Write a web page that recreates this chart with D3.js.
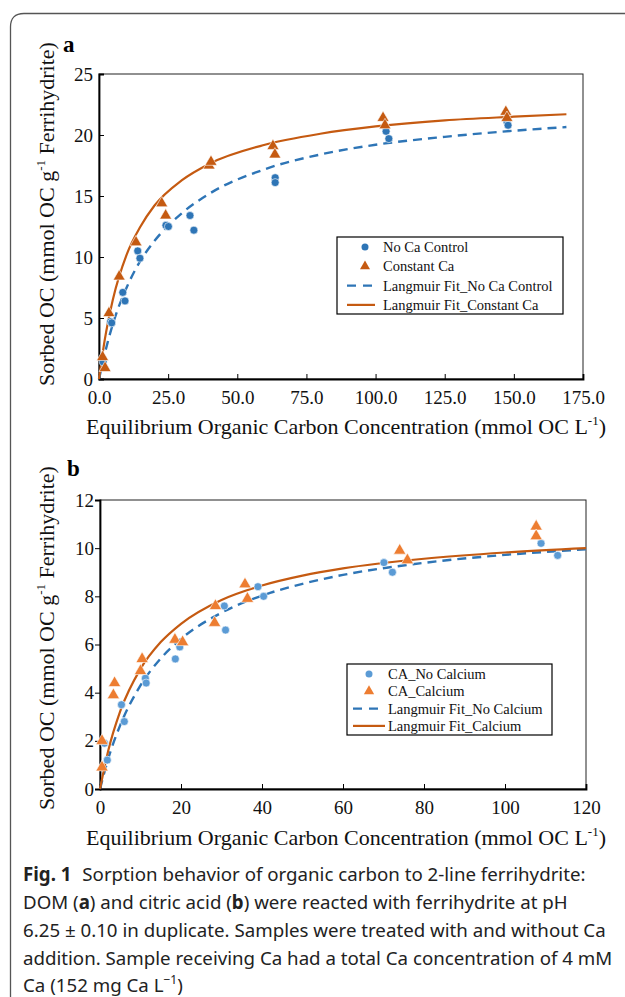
<!DOCTYPE html>
<html><head><meta charset="utf-8">
<script src="https://cdn.jsdelivr.net/npm/d3@7"></script>
<style>
html,body{margin:0;padding:0;background:#fff;}
svg{display:block;}
.serif{font-family:"Liberation Serif","Times New Roman",serif;}
</style></head>
<body>
<svg id="c" width="625" height="997"></svg>
<script>
// ---------- Panel a data (DOM) ----------
const aNoCaX = [1.5, 4.2, 4.6, 8.6, 9.4, 14.0, 14.8, 24.2, 25.1, 32.9, 34.3, 63.7, 63.7, 103.8, 104.8, 147.5, 147.9];
const aNoCaY = [1.4, 4.7, 4.6, 7.1, 6.4, 10.5, 9.9, 12.6, 12.5, 13.4, 12.2, 16.5, 16.1, 20.3, 19.7, 21.1, 20.8];
const aCaX = [1.3, 2.2, 3.6, 7.3, 13.4, 22.7, 24.1, 39.8, 40.5, 62.9, 63.6, 102.7, 103.4, 147.1, 147.5];
const aCaY = [1.8, 0.9, 5.4, 8.4, 11.2, 14.4, 13.4, 17.5, 17.8, 19.1, 18.4, 21.4, 20.8, 21.9, 21.4];
// Langmuir fit curves
const aFitNoCaX = [0, 2, 5, 10, 15, 20, 30, 40, 60, 80, 100, 125, 150, 169];
const aFitNoCaY = [0, 2.0, 4.5, 7.5, 9.7, 11.3, 13.6, 15.2, 17.2, 18.4, 19.2, 19.85, 20.35, 20.65];
const aFitCaX = [0, 2, 5, 10, 15, 20, 30, 40, 60, 80, 100, 125, 150, 169];
const aFitCaY = [0, 3.1, 6.5, 10.2, 12.5, 14.2, 16.3, 17.65, 19.2, 20.1, 20.7, 21.2, 21.5, 21.7];
const aXTicks = [0, 25, 50, 75, 100, 125, 150, 175];
const aYTicks = [0, 5, 10, 15, 20, 25];

// ---------- Panel b data (citric acid) ----------
const bNoCaX = [1.1, 1.8, 5.3, 6.0, 11.2, 11.4, 18.6, 19.7, 30.7, 31.0, 39.0, 40.4, 70.1, 72.2, 108.9, 113.0];
const bNoCaY = [1.9, 1.2, 3.5, 2.8, 4.6, 4.4, 5.4, 5.9, 7.6, 6.6, 8.4, 8.0, 9.4, 9.0, 10.2, 9.7];
const bCaX = [0.5, 0.5, 3.3, 3.6, 10.0, 10.4, 18.5, 20.4, 28.3, 28.5, 35.8, 36.4, 74.0, 75.9, 107.7, 107.7];
const bCaY = [0.9, 2.0, 3.9, 4.4, 4.9, 5.4, 6.2, 6.1, 6.9, 7.6, 8.5, 7.9, 9.9, 9.5, 10.9, 10.5];
const bFitNoCaX = [0, 2, 5, 10, 15, 20, 30, 40, 50, 60, 80, 100, 120];
const bFitNoCaY = [0, 1.24, 2.65, 4.3, 5.42, 6.23, 7.32, 8.03, 8.52, 8.89, 9.39, 9.72, 9.95];
const bFitCaX = [0, 2, 5, 10, 15, 20, 30, 40, 50, 60, 80, 100, 120];
const bFitCaY = [0, 1.57, 3.23, 4.99, 6.1, 6.86, 7.85, 8.45, 8.86, 9.16, 9.56, 9.82, 10.0];
const bXTicks = [0, 20, 40, 60, 80, 100, 120];
const bYTicks = [0, 2, 4, 6, 8, 10, 12];

const svg = d3.select("#c");

// page frame (rounded top-left corner)
svg.append("path")
  .attr("d", "M10.5,997 L10.5,27 Q10.5,13.5 24,13.5 L625,13.5")
  .attr("fill", "none").attr("stroke", "#555").attr("stroke-width", 1.3);

function panel(cfg) {
  const g = svg.append("g").attr("class", "serif");
  const x = d3.scaleLinear().domain(cfg.xDom).range(cfg.xRange);
  const y = d3.scaleLinear().domain(cfg.yDom).range(cfg.yRange);
  const [x0, x1] = cfg.xRange, [y0, y1] = cfg.yRange;

  // frame
  g.append("rect").attr("x", x0).attr("y", y1).attr("width", x1 - x0).attr("height", y0 - y1)
    .attr("fill", "none").attr("stroke", "#222").attr("stroke-width", 1);

  // x axis (ticks inward)
  const xa = g.append("g").attr("transform", `translate(0,${y0})`)
    .call(d3.axisBottom(x).tickValues(cfg.xTicks).tickSize(-5).tickPadding(12).tickFormat(cfg.xFmt));
  xa.select(".domain").attr("stroke", "#000").attr("stroke-width", 1.8);
  xa.selectAll(".tick line").attr("stroke", "#000").attr("stroke-width", 1);
  xa.selectAll("text").attr("font-family", "Liberation Serif").attr("font-size", 19).attr("fill", "#111");

  // y axis
  const ya = g.append("g").attr("transform", `translate(${x0},0)`)
    .call(d3.axisLeft(y).tickValues(cfg.yTicks).tickSize(cfg.yTickIn ? -5 : 5).tickPadding(cfg.yTickIn ? 6 : 1).tickFormat(d3.format("d")));
  ya.select(".domain").attr("stroke", "#000").attr("stroke-width", 1.8);
  ya.selectAll(".tick line").attr("stroke", "#000").attr("stroke-width", 1);
  ya.selectAll("text").attr("font-family", "Liberation Serif").attr("font-size", 19).attr("fill", "#111");

  // fit lines
  const line = d3.line().x(d => x(d[0])).y(d => y(d[1])).curve(d3.curveMonotoneX);
  g.append("path").datum(d3.zip(cfg.fitNoCaX, cfg.fitNoCaY)).attr("d", line)
    .attr("fill", "none").attr("stroke", cfg.lineBlue).attr("stroke-width", 2.4).attr("stroke-dasharray", "9,6");
  g.append("path").datum(d3.zip(cfg.fitCaX, cfg.fitCaY)).attr("d", line)
    .attr("fill", "none").attr("stroke", cfg.lineOrange).attr("stroke-width", 2.2);

  // points
  g.selectAll(".pc").data(d3.zip(cfg.noCaX, cfg.noCaY)).join("circle")
    .attr("cx", d => x(d[0])).attr("cy", d => y(d[1])).attr("r", cfg.r)
    .attr("fill", cfg.ptBlue).attr("stroke", "#fff").attr("stroke-width", 0.6);
  const tri = d3.symbol().type(d3.symbolTriangle).size(cfg.triSize);
  g.selectAll(".pt").data(d3.zip(cfg.caX, cfg.caY)).join("path")
    .attr("d", tri).attr("transform", d => `translate(${x(d[0])},${y(d[1])})`)
    .attr("fill", cfg.ptOrange).attr("stroke", "#fff").attr("stroke-width", 0.6);

  // axis titles
  const yt = g.append("text").attr("transform", `translate(${cfg.yTitleX},${cfg.yTitleY}) rotate(-90)`)
    .attr("text-anchor", "middle").attr("font-size", 22).attr("fill", "#111");
  yt.append("tspan").text("Sorbed OC (mmol OC g");
  yt.append("tspan").text("-1").attr("font-size", 13).attr("dy", -9);
  yt.append("tspan").text(" Ferrihydrite)").attr("dy", 9);

  const xt = g.append("text").attr("x", cfg.xTitleX).attr("y", cfg.xTitleY)
    .attr("text-anchor", "middle").attr("font-size", 22).attr("fill", "#111");
  xt.append("tspan").text("Equilibrium Organic Carbon Concentration (mmol OC L");
  xt.append("tspan").text("-1").attr("font-size", 13).attr("dy", -9);
  xt.append("tspan").text(")").attr("dy", 9);

  // panel letter
  g.append("text").attr("x", cfg.letterX).attr("y", cfg.letterY).attr("font-weight", "bold")
    .attr("font-size", 23).attr("fill", "#000").text(cfg.letter);

  // legend
  const L = cfg.legend;
  g.append("rect").attr("x", L.x).attr("y", L.y).attr("width", L.w).attr("height", L.h)
    .attr("fill", "#fff").attr("stroke", "#000").attr("stroke-width", 1.2);
  L.labels.forEach((lab, i) => {
    const cy = L.y + L.first + i * L.step;
    if (i === 0) g.append("circle").attr("cx", L.mx).attr("cy", cy).attr("r", cfg.r - 0.5).attr("fill", cfg.ptBlue);
    if (i === 1) g.append("path").attr("d", d3.symbol().type(d3.symbolTriangle).size(cfg.triSize * 0.7)())
      .attr("transform", `translate(${L.mx},${cy})`).attr("fill", cfg.ptOrange);
    if (i === 2) g.append("line").attr("x1", L.lx0).attr("x2", L.lx1).attr("y1", cy).attr("y2", cy)
      .attr("stroke", cfg.lineBlue).attr("stroke-width", 2.4).attr("stroke-dasharray", "9,7");
    if (i === 3) g.append("line").attr("x1", L.lx0).attr("x2", L.lx1).attr("y1", cy).attr("y2", cy)
      .attr("stroke", cfg.lineOrange).attr("stroke-width", 2.2);
    g.append("text").attr("x", L.tx).attr("y", cy).attr("dy", "0.35em")
      .attr("font-size", L.fs).attr("fill", "#111").text(lab);
  });
}

panel({
  xDom: [0, 175], xRange: [99, 583], yDom: [0, 25], yRange: [379, 74],
  xTicks: aXTicks, yTicks: aYTicks, xFmt: d3.format(".1f"), yTickIn: true,
  noCaX: aNoCaX, noCaY: aNoCaY, caX: aCaX, caY: aCaY,
  fitNoCaX: aFitNoCaX, fitNoCaY: aFitNoCaY, fitCaX: aFitCaX, fitCaY: aFitCaY,
  ptBlue: "#2E75B6", ptOrange: "#C55A11", lineBlue: "#2E75B6", lineOrange: "#C55A11",
  r: 4, triSize: 62,
  yTitleX: 54, yTitleY: 214, xTitleX: 346, xTitleY: 434,
  letter: "a", letterX: 63, letterY: 52,
  legend: { x: 337, y: 237, w: 226, h: 77, first: 10, step: 19.3, mx: 365, lx0: 347, lx1: 375, tx: 383, fs: 14.5,
    labels: ["No Ca Control", "Constant Ca", "Langmuir Fit_No Ca Control", "Langmuir Fit_Constant Ca"] }
});

panel({
  xDom: [0, 120], xRange: [100, 586], yDom: [0, 12], yRange: [789, 500],
  xTicks: bXTicks, yTicks: bYTicks, xFmt: d3.format("d"), yTickIn: false,
  noCaX: bNoCaX, noCaY: bNoCaY, caX: bCaX, caY: bCaY,
  fitNoCaX: bFitNoCaX, fitNoCaY: bFitNoCaY, fitCaX: bFitCaX, fitCaY: bFitCaY,
  ptBlue: "#5B9BD5", ptOrange: "#ED7D31", lineBlue: "#2E75B6", lineOrange: "#C55A11",
  r: 4, triSize: 66,
  yTitleX: 54, yTitleY: 638, xTitleX: 346, xTitleY: 845,
  letter: "b", letterX: 67, letterY: 476,
  legend: { x: 347, y: 664, w: 205, h: 71, first: 10, step: 17.3, mx: 369, lx0: 353, lx1: 385, tx: 388, fs: 14.5,
    labels: ["CA_No Calcium", "CA_Calcium", "Langmuir Fit_No Calcium", "Langmuir Fit_Calcium"] }
});

// caption
const cap = svg.append("g").attr("font-family", "Noto Sans, Open Sans, sans-serif").attr("font-size", 18.7).attr("fill", "#222");
const capLines = [
  null,
  null,
  "6.25 ± 0.10 in duplicate. Samples were treated with and without Ca",
  "addition. Sample receiving Ca had a total Ca concentration of 4 mM",
  null
];
const capY = [881, 909, 937, 965, 992];
let t = cap.append("text").attr("x", 23).attr("y", capY[0]);
t.append("tspan").attr("font-weight", "bold").text("Fig. 1");
t.append("tspan").attr("dx", 6).text(" Sorption behavior of organic carbon to 2-line ferrihydrite:");
t = cap.append("text").attr("x", 23).attr("y", capY[1]);
t.append("tspan").text("DOM (");
t.append("tspan").attr("font-weight", "bold").text("a");
t.append("tspan").text(") and citric acid (");
t.append("tspan").attr("font-weight", "bold").text("b");
t.append("tspan").text(") were reacted with ferrihydrite at pH");
cap.append("text").attr("x", 23).attr("y", capY[2]).text(capLines[2]);
cap.append("text").attr("x", 23).attr("y", capY[3]).text(capLines[3]);
t = cap.append("text").attr("x", 23).attr("y", capY[4]);
t.append("tspan").text("Ca (152 mg Ca L");
t.append("tspan").attr("font-size", 12).attr("dy", -8).text("−1");
t.append("tspan").attr("dy", 8).text(")");
</script>
</body></html>
